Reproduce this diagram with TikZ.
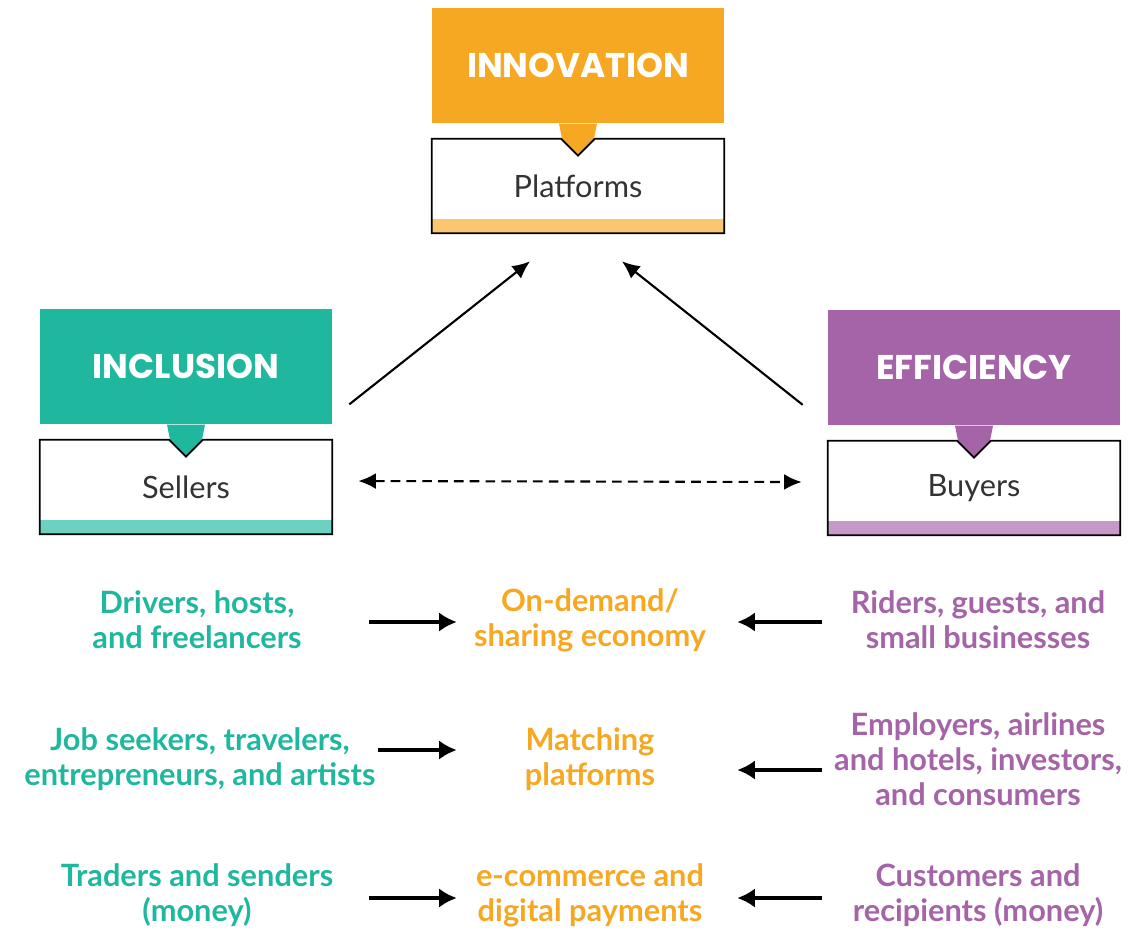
\documentclass[tikz,border=0pt]{standalone}
\usepackage{fontspec}
\setmainfont{Lato}
\newfontfamily\headfont{Poppins}
\usetikzlibrary{positioning, arrows.meta}

\definecolor{innoc}{HTML}{F7A823}
\definecolor{inclc}{HTML}{1FB89F}
\definecolor{effic}{HTML}{A564A7}

\tikzstyle{headbox}=[
    anchor=north,
    minimum width=5.84cm,
    minimum height=2.3cm,
    inner sep=0pt,
    text=white,
    font=\headfont\bfseries\fontsize{19.5}{22}\selectfont,
  ]
\tikzstyle{card}=[
    minimum width=5.84cm,
    minimum height=1.88cm,
    inner sep=0pt,
    text=black!80,
    font=\fontsize{17.5}{20}\selectfont,
  ]
\tikzstyle{note}=[
    align=center,
    inner sep=0pt,
    font=\bfseries\fontsize{17.5}{20}\selectfont,
  ]
\tikzstyle{link}=[
    -{Latex[length=10pt, width=9pt]},
    line width=1.2pt,
  ]
\tikzstyle{flow}=[
    -{Latex[length=10pt, width=11pt]},
    line width=1.8pt,
  ]

\begin{document}
\begin{tikzpicture}[x=0.02cm, y=-0.02cm]
      \useasboundingbox (0,0) rectangle (1131,935);
      \foreach \nm/\x/\y/\col/\title/\who in {inno/578/8/innoc/INNOVATION/Platforms,
          incl/186/309/inclc/INCLUSION/Sellers, effi/974/310/effic/EFFICIENCY/Buyers} {%
        \node[headbox, fill=\col] (\nm) at (\x, \y) {\title};
        \node[card, below=0.3cm of \nm] (\nm-box) {\who};
        \fill[\col!65] (\nm-box.south west) rectangle ([yshift=0.28cm]\nm-box.south east);
        \fill[\col] ([xshift=-0.38cm]\nm.south) -- ([xshift=0.38cm]\nm.south)
          -- ([xshift=0.32cm]\nm-box.north) -- ([yshift=-0.34cm]\nm-box.north)
          -- ([xshift=-0.32cm]\nm-box.north) -- cycle;
        \draw[line width=1pt] (\nm-box.north west) -- ([xshift=-0.34cm]\nm-box.north)
          -- ([yshift=-0.34cm]\nm-box.north) -- ([xshift=0.34cm]\nm-box.north)
          -- (\nm-box.north east) -- (\nm-box.south east) -- (\nm-box.south west) -- cycle;
      }
      \draw[link] ([xshift=0.34cm, yshift=-0.75cm]incl.east) to ([xshift=-0.96cm, yshift=-0.56cm]inno-box.south);
      \draw[link] ([xshift=-0.5cm, yshift=-0.74cm]effi.west) to ([xshift=0.88cm, yshift=-0.56cm]inno-box.south);
      \draw[link, {Latex[length=10pt, width=9pt]}-{Latex[length=10pt, width=9pt]}, dash pattern=on 5.5pt off 3.5pt]
        ([xshift=0.52cm, yshift=0.12cm]incl-box.east) to ([xshift=-0.52cm, yshift=0.12cm]effi-box.west);

      \node[note, text=inclc, minimum width=6.8cm] (sell1) at (197, 620) {Drivers, hosts,\\and freelancers};
      \node[note, text=innoc, minimum width=5.12cm] (mid1) at (590, 620) {On-demand/\\sharing economy};
      \node[note, text=effic, minimum width=6.24cm] (buy1) at (978, 620) {Riders, guests, and\\small businesses};
      \node[note, text=inclc, minimum width=6.8cm] (sell2) at (200, 759) {Job seekers, travelers,\\entrepreneurs, and artists};
      \node[note, text=innoc, minimum width=5.12cm] (mid2) at (590, 759) {Matching\\platforms};
      \node[note, text=effic, minimum width=6.24cm] (buy2) at (978, 759) {Employers, airlines\\and hotels, investors,\\and consumers};
      \node[note, text=inclc, minimum width=6.8cm] (sell3) at (197, 895) {Traders and senders\\(money)};
      \node[note, text=innoc, minimum width=5.12cm] (mid3) at (590, 895) {e-commerce and\\digital payments};
      \node[note, text=effic, minimum width=6.24cm] (buy3) at (978, 895) {Customers and\\recipients (money)};

      \foreach \r/\ly/\ry in {1/-0.04/-0.04, 2/0.18/-0.22, 3/-0.06/-0.06} {%
        \draw[flow] ([xshift=0.04cm, yshift=\ly cm]sell\r.east) to ([xshift=-0.1cm, yshift=\ly cm]mid\r.west);
        \draw[flow] ([yshift=\ry cm]buy\r.west) to ([xshift=0.38cm, yshift=\ry cm]mid\r.east);
      }
    \end{tikzpicture}
\end{document}
